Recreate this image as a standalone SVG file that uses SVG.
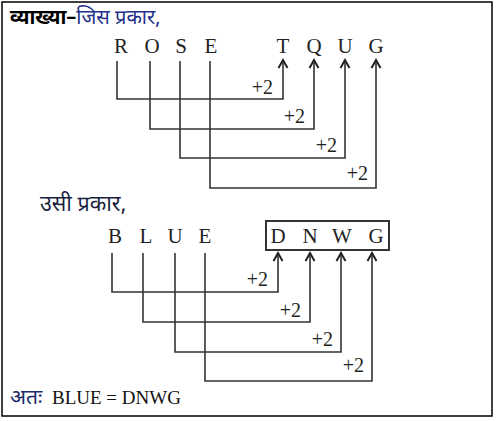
<svg xmlns="http://www.w3.org/2000/svg" width="497" height="421" viewBox="0 0 497 421">
<defs>
<style>
.frame{fill:none;stroke:#000;stroke-width:1.5}
.let{font-family:"Liberation Serif","Times New Roman",serif;font-size:21px;fill:#222;text-anchor:middle}
.lbl{font-family:"Liberation Serif","Times New Roman",serif;font-size:20px;fill:#222;text-anchor:end}
.hi{font-family:"Noto Sans Devanagari","Lohit Devanagari","Noto Sans","Liberation Sans",sans-serif;font-size:20px}
.con path{fill:none;stroke:#333;stroke-width:1.6;marker-end:url(#ah)}
.box{fill:none;stroke:#333;stroke-width:2}
</style>
<marker id="ah" markerUnits="userSpaceOnUse" markerWidth="14" markerHeight="14" refX="0" refY="0" viewBox="-10 -7 14 14" orient="auto" overflow="visible">
<path d="M-8,-4.5 L0,0 L-8,4.5" fill="none" stroke="#222" stroke-width="2"/>
</marker>
</defs>
<rect class="frame" x="2" y="2" width="490" height="414"/>
<g id="title"><text class="hi" x="10" y="24"><tspan font-weight="bold" fill="#000">व्याख्या–</tspan><tspan fill="#23318a">जिस प्रकार,</tspan></text></g>
<g id="rose">
<text class="let" x="121" y="53">R</text>
<text class="let" x="152" y="53">O</text>
<text class="let" x="181" y="53">S</text>
<text class="let" x="211" y="53">E</text>
</g>
<g id="tqug">
<text class="let" x="283" y="53">T</text>
<text class="let" x="314" y="53">Q</text>
<text class="let" x="345" y="53">U</text>
<text class="let" x="376" y="53">G</text>
</g>
<g id="con1" class="con">
<path d="M117,61 V99 H283 V60"/>
<path d="M150,61 V129 H314 V60"/>
<path d="M180,61 V158 H345 V60"/>
<path d="M210,61 V188 H376 V60"/>
</g>
<g id="lbl1">
<text class="lbl" x="273" y="94">+2</text>
<text class="lbl" x="305" y="123">+2</text>
<text class="lbl" x="337" y="152">+2</text>
<text class="lbl" x="368" y="180">+2</text>
</g>
<g id="sub"><text class="hi" x="40" y="211" fill="#1a1f40" style="font-size:21.5px">उसी प्रकार,</text></g>
<g id="blue">
<text class="let" x="115" y="243">B</text>
<text class="let" x="146" y="243">L</text>
<text class="let" x="175" y="243">U</text>
<text class="let" x="205" y="243">E</text>
</g>
<g id="dnwg">
<rect class="box" x="266" y="221" width="123" height="29"/>
<text class="let" x="278" y="243">D</text>
<text class="let" x="310" y="243">N</text>
<text class="let" x="342" y="243">W</text>
<text class="let" x="376" y="243">G</text>
</g>
<g id="con2" class="con">
<path d="M112,253 V292 H278 V253"/>
<path d="M143,253 V322 H310 V253"/>
<path d="M175,253 V352 H341 V253"/>
<path d="M205,253 V381 H372 V253"/>
</g>
<g id="lbl2">
<text class="lbl" x="268" y="286">+2</text>
<text class="lbl" x="301" y="317">+2</text>
<text class="lbl" x="333" y="346">+2</text>
<text class="lbl" x="364" y="372">+2</text>
</g>
<g id="result"><text x="10" y="404" style="font-family:'Noto Sans Devanagari','Lohit Devanagari','Liberation Serif',serif;font-size:21px;font-weight:normal"><tspan fill="#1c2a6e">अतः</tspan><tspan font-family="Liberation Serif,serif" fill="#111" x="52" style="font-size:19px">BLUE = DNWG</tspan></text></g>
</svg>
